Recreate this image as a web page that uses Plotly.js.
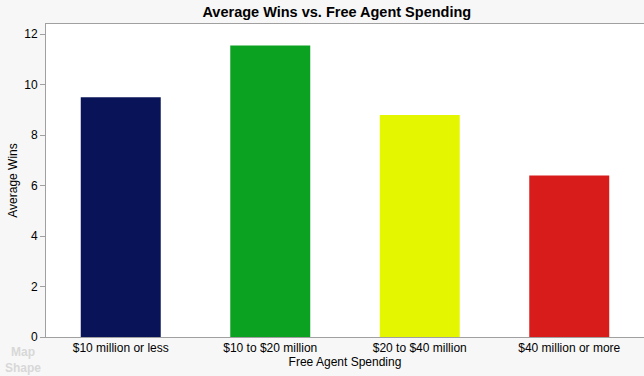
<!DOCTYPE html>
<html><head><meta charset="utf-8">
<script src="https://cdn.plot.ly/plotly-3.0.1.min.js"></script>
<style>html,body{margin:0;padding:0;background:#f7f7f7;}#chart{width:644px;height:376px;}</style>
</head><body><div id="chart"></div>
<script>
const categories = ["$10 million or less", "$10 to $20 million", "$20 to $40 million", "$40 million or more"];
const avgWins = [9.5, 11.55, 8.79, 6.4];
const barColors = ["#081358", "#0ca221", "#e4f700", "#d81c1c"];
const yTicks = [0, 2, 4, 6, 8, 10, 12];

const trace = {
  type: "bar", x: categories, y: avgWins,
  marker: {color: barColors, line: {width: 0}},
  hoverinfo: "x+y"
};
const layout = {
  width: 644, height: 376,
  paper_bgcolor: "#f7f7f7", plot_bgcolor: "#ffffff",
  margin: {l: 46, r: 0, t: 24, b: 39},
  bargap: 0.465,
  font: {family: "Liberation Sans, Arial, sans-serif", size: 12, color: "#000"},
  title: {text: "<b>Average Wins vs. Free Agent Spending</b>", font: {size: 14.5, color: "#000"}, x: 0.523, xanchor: "center", y: 0.968, yanchor: "middle"},
  xaxis: {
    title: {text: "Free Agent Spending", font: {size: 12}, standoff: 2},
    showline: true, linecolor: "#a0a0a0", linewidth: 1, mirror: true,
    ticks: "", showgrid: false, tickfont: {size: 12}, fixedrange: true
  },
  yaxis: {
    title: {text: "Average Wins", font: {size: 12}, standoff: 4},
    range: [0, 12.4], tickvals: yTicks,
    showline: true, linecolor: "#a0a0a0", linewidth: 1,
    ticks: "outside", ticklen: 5, tickcolor: "#a0a0a0",
    showgrid: false, zeroline: false, tickfont: {size: 12}, fixedrange: true
  },
  annotations: [{
    text: "<b>Map<br>Shape</b>", xref: "paper", yref: "paper", x: -0.038, y: -0.02,
    xanchor: "center", yanchor: "top", showarrow: false,
    font: {size: 12, color: "#d8d8d8"}, align: "center"
  }],
  showlegend: false
};
Plotly.newPlot("chart", [trace], layout, {displayModeBar: false, staticPlot: true});
</script></body></html>
